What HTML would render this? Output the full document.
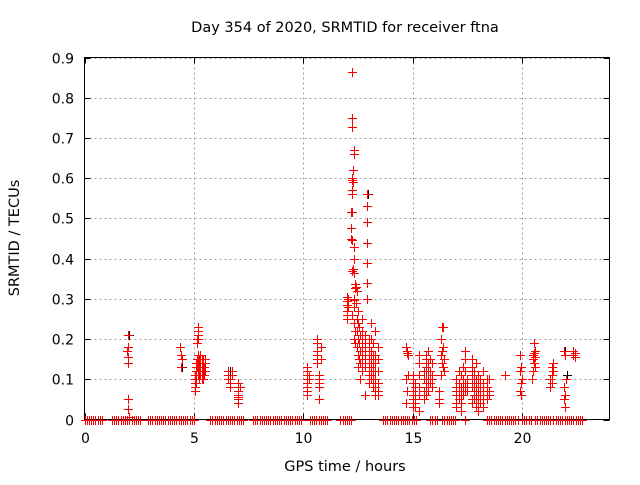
<!DOCTYPE html>
<html><head><meta charset="utf-8"><style>
body{margin:0;background:#fff}
svg text{font-family:"DejaVu Sans","Liberation Sans",sans-serif;font-size:14.5px;fill:#000}
svg text.tick{font-size:14px}
</style></head><body>
<svg id="chart" width="640" height="480">
<rect width="640" height="480" fill="#fff"/>
<text x="345" y="32" text-anchor="middle">Day 354 of 2020, SRMTID for receiver ftna</text>
<text x="345" y="471" text-anchor="middle">GPS time / hours</text>
<text transform="translate(19,238) rotate(-90)" text-anchor="middle">SRMTID / TECUs</text>
<g id="grid"></g>
<g id="axes"></g>
<g id="marksBlack" fill="#000000"></g>
<g id="marks" fill="#ff0000"></g>
</svg>
<script>
const xTicks=[0,5,10,15,20];
const yTicks=[0,0.1,0.2,0.3,0.4,0.5,0.6,0.7,0.8,0.9];
const yTickLabels=["0","0.1","0.2","0.3","0.4","0.5","0.6","0.7","0.8","0.9"];
const zeroHours=[0,0.1,0.2,0.3,0.4,0.5,0.6,0.7,0.8,1.25,1.35,1.45,1.55,1.65,1.75,1.85,1.95,2.05,2.15,2.25,2.35,2.45,2.55,2.9,3.0,3.1,3.2,3.3,3.4,3.5,3.6,3.7,3.8,3.9,4.0,4.1,4.2,4.3,4.4,4.5,4.6,4.7,4.8,4.9,5.0,5.75,5.85,5.95,6.05,6.15,6.25,6.35,6.45,6.55,6.65,6.75,6.85,6.95,7.05,7.15,7.25,7.7,7.8,7.9,8.0,8.1,8.2,8.3,8.4,8.5,8.6,8.7,8.8,8.9,9.0,9.1,9.2,9.3,9.4,9.5,9.6,9.7,9.8,9.9,10.3,10.4,10.5,10.6,10.7,10.8,10.9,11.0,11.1,11.7,11.8,11.9,12.0,12.1,12.2,13.65,13.75,13.85,13.95,14.05,14.15,14.25,14.35,14.45,14.55,14.65,14.75,14.85,14.95,15.05,15.15,15.8,15.9,16.0,16.1,16.35,16.45,16.55,16.65,16.75,16.85,16.95,17.4,18.4,18.5,18.6,18.7,18.8,18.9,19.0,19.1,19.2,19.3,19.4,19.5,19.6,19.7,19.8,20.0,20.1,20.2,20.3,20.4,20.6,20.7,20.8,20.9,21.0,21.1,21.2,21.3,21.4,21.55,21.65,21.75,21.85,21.95,22.05,22.15,22.25,22.35,22.45,22.55,22.65,22.75];
const redHours=[2.0,2.0,1.95,2.0,2.0,2.0,2.0,2.05,
4.35,4.4,4.45,4.4,
5.05,5.05,5.05,5.05,5.05,5.1,5.1,5.1,5.1,5.1,5.15,5.15,5.15,5.15,5.15,5.2,5.2,5.2,5.2,5.2,5.2,5.2,5.2,5.2,5.25,5.25,5.25,5.25,5.25,5.3,5.3,5.3,5.3,5.3,5.3,5.35,5.35,5.35,5.35,5.35,5.35,5.4,5.4,5.4,5.4,5.45,5.45,5.45,5.5,5.5,5.5,
6.55,6.55,6.55,6.65,6.65,6.65,6.75,6.75,7.0,7.0,7.0,7.0,7.0,7.0,7.0,7.1,
10.15,10.15,10.15,10.15,10.15,10.15,10.15,10.15,10.25,10.25,10.65,10.65,10.65,10.65,10.65,10.65,10.7,10.7,10.7,10.7,10.7,10.8,10.8,
12.0,12.0,12.0,12.0,12.0,12.0,12.05,12.05,
12.22,12.22,12.22,12.3,12.3,12.28,12.22,12.25,12.28,12.22,12.22,12.2,12.25,12.2,12.2,12.25,12.3,12.3,12.28,12.25,12.3,12.35,12.38,12.3,12.3,12.3,12.25,12.3,12.35,12.3,12.35,
12.4,12.45,12.4,12.5,12.45,12.5,12.55,12.45,12.6,12.5,12.55,12.45,12.6,12.5,12.55,12.6,12.5,12.6,
12.9,12.9,12.9,12.9,12.9,12.9,12.9,
12.7,12.7,12.7,12.7,12.7,12.7,12.7,12.8,12.8,12.8,12.8,12.8,12.8,12.8,13.0,13.0,13.0,13.0,13.0,13.0,13.0,13.0,13.1,13.1,13.1,13.1,13.1,13.1,13.1,13.2,13.2,13.2,13.2,13.2,13.2,13.2,13.3,13.3,13.3,13.3,13.3,13.3,13.3,13.3,13.4,13.4,13.4,13.4,13.4,13.4,
14.7,14.75,14.8,14.75,14.8,14.7,14.75,14.7,
15.0,15.0,15.0,15.0,15.0,15.0,15.0,15.0,15.1,15.1,15.1,15.1,15.1,15.1,15.3,15.3,15.3,15.3,15.3,15.3,
15.5,15.5,15.5,15.5,15.6,15.6,15.6,15.6,15.6,15.6,15.6,15.6,15.7,15.7,15.7,15.7,15.7,15.7,15.8,15.8,15.8,15.8,15.9,15.9,15.9,15.9,
16.35,16.4,16.3,16.4,16.35,16.3,16.45,16.35,16.4,16.45,16.3,16.2,16.2,16.2,
17.0,17.0,17.0,17.0,17.0,17.0,17.1,17.1,17.1,17.1,17.2,17.2,17.2,17.2,17.2,17.3,17.3,17.3,17.3,17.4,17.4,17.4,17.4,17.4,17.5,17.5,17.5,
17.7,17.7,17.7,17.7,17.7,17.7,17.7,17.8,17.8,17.8,17.8,17.8,17.8,17.9,17.9,17.9,17.9,17.9,17.9,18.0,18.0,18.0,18.0,18.0,18.0,18.0,18.1,18.1,18.1,18.1,18.2,18.2,18.2,18.2,18.2,18.4,18.4,18.4,18.4,18.4,18.5,18.5,18.5,
19.2,
19.9,19.95,19.9,20.0,19.95,19.9,19.95,
20.55,20.6,20.5,20.55,20.6,20.5,20.55,20.6,20.5,20.45,
21.4,21.35,21.4,21.35,21.3,21.35,21.3,
21.9,21.95,22.0,21.9,21.95,21.9,21.95,
22.35,22.4,22.35,22.4];
const redValues=[0.21,0.18,0.17,0.155,0.14,0.05,0.025,0.005,
0.18,0.16,0.15,0.13,
0.08,0.07,0.09,0.1,0.11,0.12,0.13,0.14,0.1,0.09,0.2,0.19,0.15,0.14,0.13,0.23,0.22,0.21,0.2,0.16,0.15,0.14,0.12,0.11,0.15,0.14,0.13,0.12,0.1,0.16,0.15,0.14,0.13,0.12,0.11,0.15,0.14,0.13,0.12,0.11,0.1,0.15,0.14,0.12,0.1,0.13,0.12,0.11,0.15,0.14,0.12,
0.12,0.11,0.1,0.1,0.09,0.08,0.12,0.11,0.09,0.08,0.07,0.06,0.055,0.05,0.04,0.08,
0.13,0.12,0.11,0.1,0.09,0.08,0.07,0.06,0.11,0.1,0.2,0.19,0.17,0.16,0.15,0.14,0.11,0.1,0.09,0.08,0.05,0.18,0.15,
0.305,0.295,0.285,0.27,0.26,0.25,0.3,0.28,
0.865,0.75,0.727,0.67,0.66,0.62,0.6,0.595,0.59,0.57,0.56,0.517,0.515,0.475,0.45,0.446,0.43,0.4,0.375,0.37,0.363,0.338,0.326,0.3,0.297,0.28,0.26,0.24,0.22,0.2,0.19,
0.33,0.32,0.29,0.27,0.25,0.24,0.23,0.22,0.21,0.2,0.19,0.18,0.17,0.16,0.15,0.14,0.13,0.1,
0.56,0.53,0.49,0.44,0.39,0.34,0.3,
0.25,0.22,0.2,0.18,0.16,0.14,0.12,0.21,0.19,0.17,0.16,0.15,0.13,0.06,0.2,0.18,0.16,0.15,0.14,0.12,0.11,0.09,0.24,0.2,0.17,0.15,0.13,0.11,0.1,0.19,0.16,0.14,0.12,0.1,0.09,0.08,0.22,0.16,0.14,0.12,0.1,0.08,0.07,0.06,0.18,0.15,0.12,0.09,0.07,0.06,
0.18,0.17,0.16,0.165,0.11,0.1,0.07,0.04,
0.11,0.1,0.09,0.07,0.06,0.05,0.04,0.03,0.09,0.08,0.06,0.05,0.04,0.03,0.16,0.14,0.11,0.08,0.06,0.02,
0.12,0.1,0.07,0.05,0.16,0.15,0.13,0.12,0.1,0.09,0.08,0.06,0.17,0.14,0.12,0.1,0.08,0.07,0.15,0.12,0.1,0.09,0.14,0.11,0.1,0.08,
0.23,0.23,0.2,0.18,0.17,0.16,0.15,0.14,0.13,0.12,0.11,0.07,0.05,0.04,
0.1,0.08,0.07,0.06,0.04,0.03,0.12,0.09,0.07,0.05,0.11,0.08,0.06,0.04,0.02,0.13,0.1,0.08,0.06,0.17,0.15,0.12,0.09,0.07,0.1,0.08,0.07,
0.15,0.13,0.11,0.1,0.08,0.05,0.04,0.12,0.1,0.09,0.07,0.06,0.05,0.14,0.1,0.08,0.06,0.04,0.03,0.11,0.09,0.08,0.06,0.05,0.04,0.02,0.1,0.08,0.06,0.04,0.12,0.09,0.07,0.05,0.03,0.1,0.08,0.07,0.06,0.05,0.1,0.07,0.06,
0.11,
0.16,0.13,0.12,0.1,0.09,0.07,0.06,
0.19,0.17,0.16,0.165,0.155,0.15,0.14,0.13,0.12,0.1,
0.14,0.13,0.12,0.11,0.1,0.09,0.08,
0.17,0.16,0.1,0.08,0.06,0.05,0.03,
0.17,0.165,0.16,0.155];
const blackHours=[2.0,4.4,6.6,12.2,12.2,12.2,12.9,21.9,22.0];
const blackValues=[0.21,0.13,0.12,0.865,0.75,0.727,0.56,0.17,0.11];

const L=84.5,R=609.5,T=57.5,B=419.5,XMAX=24,YMAX=0.9;
const xs=h=>L+(R-L)*h/XMAX;
const ys=v=>B-(B-T)*v/YMAX;
const NS="http://www.w3.org/2000/svg";
function mk(tag,attrs,parent){const e=document.createElementNS(NS,tag);for(const k in attrs)e.setAttribute(k,attrs[k]);parent.appendChild(e);return e;}
const grid=document.getElementById('grid'),axes=document.getElementById('axes'),marks=document.getElementById('marks'),marksBlack=document.getElementById('marksBlack');
xTicks.forEach(t=>{const x=Math.round(xs(t))+0.5;
 if(t>0){const g=mk('line',{x1:x,x2:x,y1:T,y2:B,stroke:'#a0a0a0','stroke-dasharray':'2,3'},grid);
 
 }
 mk('line',{x1:x,x2:x,y1:B,y2:B-6,stroke:'#000'},axes);
 mk('line',{x1:x,x2:x,y1:T,y2:T+6,stroke:'#000'},axes);
 const tx=mk('text',{x:x,y:443,'text-anchor':'middle','class':'tick'},axes);tx.textContent=t;
 
 
});
yTicks.forEach((t,i)=>{const y=Math.round(ys(t))+0.5;
 if(t>0){const g=mk('line',{x1:L,x2:R,y1:y,y2:y,stroke:'#a0a0a0','stroke-dasharray':'2,3'},grid);
 
 }
 mk('line',{x1:L,x2:L+6,y1:y,y2:y,stroke:'#000'},axes);
 mk('line',{x1:R,x2:R-6,y1:y,y2:y,stroke:'#000'},axes);
 const tx=mk('text',{x:74,y:y+5,'text-anchor':'end','class':'tick'},axes);tx.textContent=yTickLabels[i];
 
 
});
mk('rect',{x:L,y:T,width:R-L,height:B-T,fill:'none',stroke:'#000'},axes);
function plus(h,v,color,parent){const x=Math.round(xs(h)),y=Math.round(ys(v));
 const g=mk('g',{fill:color},parent);
 mk('rect',{x:x-4,y:y,width:9,height:1,fill:color},g);
 mk('rect',{x:x,y:y-4,width:1,height:9,fill:color},g);
 return g;}
blackHours.forEach((h,i)=>{const p=plus(h+0.05,blackValues[i],'#000000',marksBlack);
 
 });
zeroHours.forEach(h=>{const p=plus(h,0,'#ff0000',marks);
 
 });
redHours.forEach((h,i)=>{const p=plus(h,redValues[i],'#ff0000',marks);
 
 });
</script>
</body></html>
